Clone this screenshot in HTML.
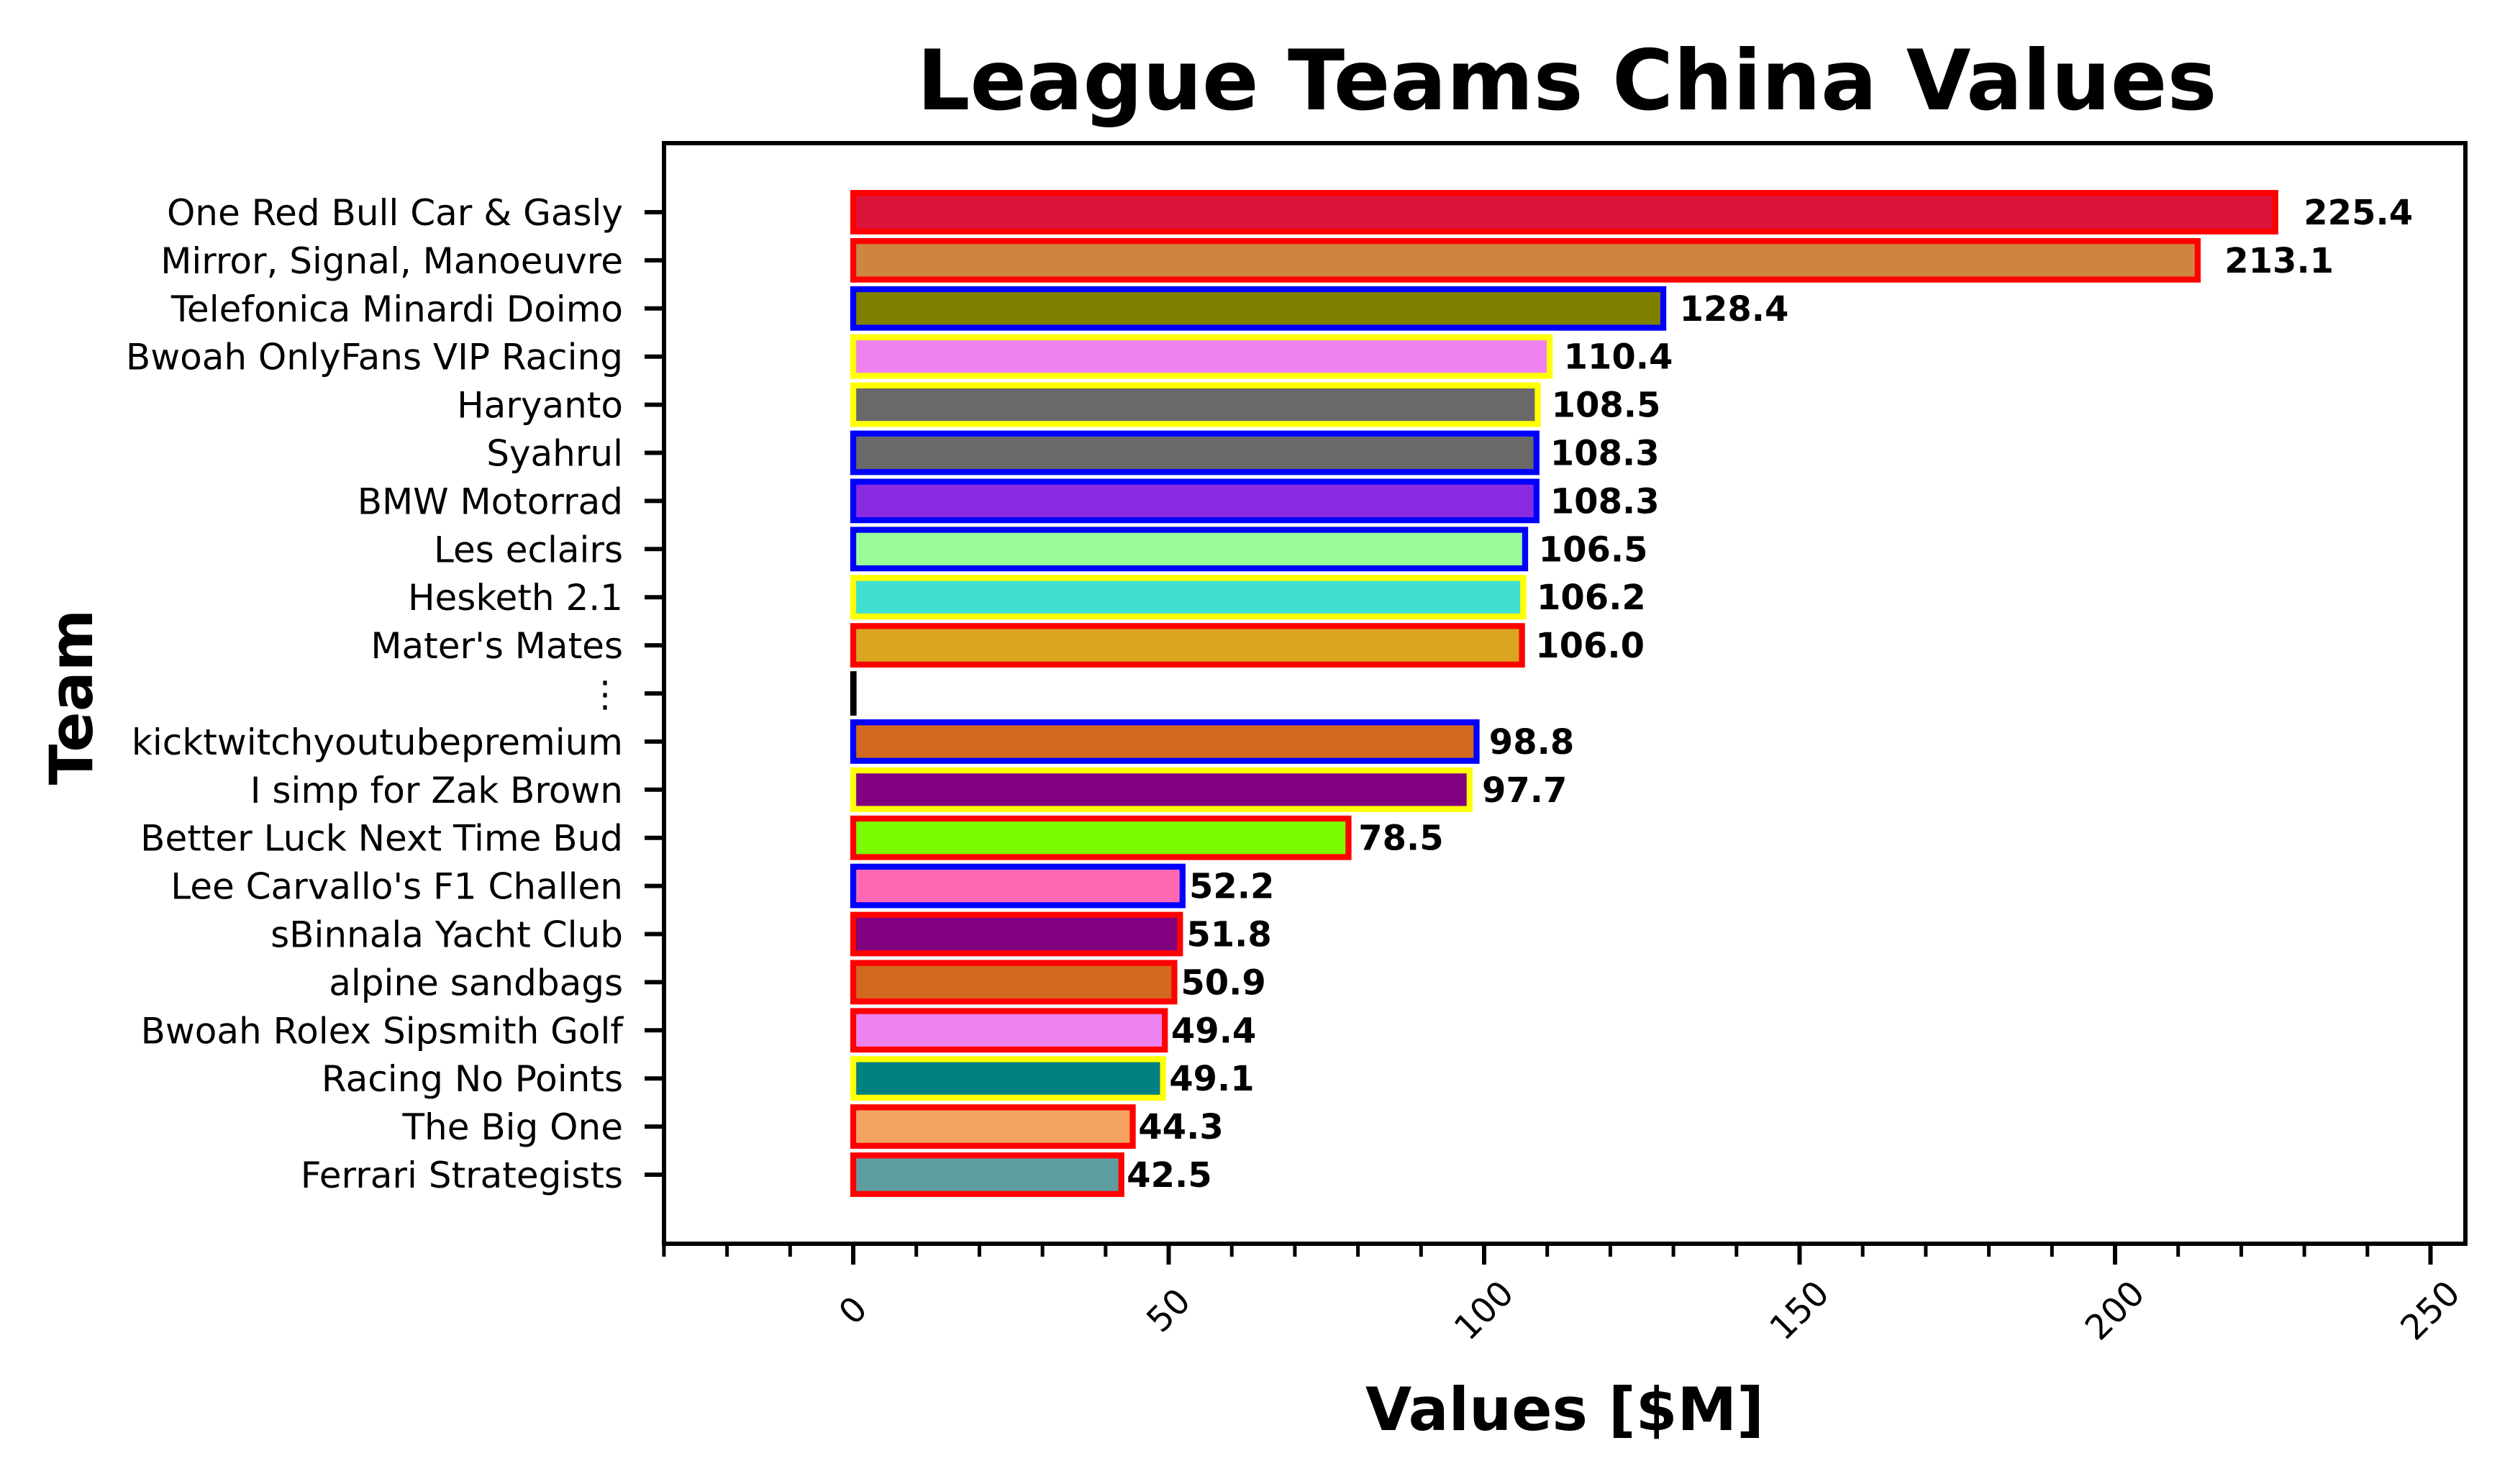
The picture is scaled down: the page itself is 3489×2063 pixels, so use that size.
<!DOCTYPE html>
<html><head><meta charset="utf-8"><title>League Teams China Values</title>
<style>html,body{margin:0;padding:0;background:#fff;}svg{display:block;}text{font-family:"DejaVu Sans","Liberation Sans",sans-serif;}</style>
</head><body>
<svg id="chart" width="3489" height="2063" viewBox="0 0 3489 2063" xmlns="http://www.w3.org/2000/svg">
<rect width="3489" height="2063" fill="#fff"/>
<text x="2178" y="152" text-anchor="middle" font-size="116" font-weight="bold">League Teams China Values</text>
<text x="2175" y="1988" text-anchor="middle" font-size="83" font-weight="bold">Values [$M]</text>
<text x="0" y="0" transform="translate(128,969) rotate(-90)" text-anchor="middle" font-size="83" font-weight="bold">Team</text>
<g id="bars"></g>
<g id="yticks"></g>
<g id="xticks"></g>
<rect x="923" y="199" width="2504" height="1530" fill="none" stroke="#000" stroke-width="6"/>
</svg>
<script>
const teams = ["One Red Bull Car & Gasly","Mirror, Signal, Manoeuvre","Telefonica Minardi Doimo","Bwoah OnlyFans VIP Racing","Haryanto","Syahrul","BMW Motorrad","Les eclairs","Hesketh 2.1","Mater's Mates","⋮","kicktwitchyoutubepremium","I simp for Zak Brown","Better Luck Next Time Bud","Lee Carvallo's F1 Challen","sBinnala Yacht Club","alpine sandbags","Bwoah Rolex Sipsmith Golf","Racing No Points","The Big One","Ferrari Strategists"];
const values = [225.4,213.1,128.4,110.4,108.5,108.3,108.3,106.5,106.2,106.0,0,98.8,97.7,78.5,52.2,51.8,50.9,49.4,49.1,44.3,42.5];
const valueLabels = ["225.4","213.1","128.4","110.4","108.5","108.3","108.3","106.5","106.2","106.0","","98.8","97.7","78.5","52.2","51.8","50.9","49.4","49.1","44.3","42.5"];
const fills = ["#dc143c","#cd853f","#808000","#ee82ee","#696969","#696969","#8a2be2","#98fb98","#40e0d0","#daa520","#000000","#d2691e","#800080","#7cfc00","#ff69b4","#800080","#d2691e","#ee82ee","#008080","#f4a460","#5f9ea0"];
const edges = ["#ff0000","#ff0000","#0000ff","#ffff00","#ffff00","#0000ff","#0000ff","#0000ff","#ffff00","#ff0000","#000000","#0000ff","#ffff00","#ff0000","#0000ff","#ff0000","#ff0000","#ff0000","#ffff00","#ff0000","#ff0000"];
const xTicks = [0,50,100,150,200,250];
const xTickLabels = ["0","50","100","150","200","250"];

const NS = "http://www.w3.org/2000/svg";
const X0 = 1186, PXU = 8.77;
const xs = v => X0 + v * PXU;
const ROW0 = 295, PITCH = 66.9;
const ys = i => ROW0 + i * PITCH;
const BH = 0.8 * PITCH;

function mk(tag, attrs) { const e = document.createElementNS(NS, tag); for (const k in attrs) e.setAttribute(k, attrs[k]); return e; }

const gb = document.getElementById('bars');
const gy = document.getElementById('yticks');
const gx = document.getElementById('xticks');

values.forEach((v, i) => {
  const x1 = xs(0), x2 = xs(v);
  const r = mk('rect', {x: Math.min(x1, x2), y: ys(i) - BH / 2, width: Math.max(Math.abs(x2 - x1), 0.5), height: BH, fill: fills[i], stroke: edges[i], 'stroke-width': 8.3});
  
  
  gb.appendChild(r);
  if (valueLabels[i]) {
    const t = mk('text', {x: xs(v * 1.02), y: ys(i) + 17, 'font-size': 48, 'font-weight': 'bold'});
    t.textContent = valueLabels[i];
    
    
    gb.appendChild(t);
  }
  const tk = mk('line', {x1: 896, x2: 923, y1: ys(i), y2: ys(i), stroke: '#000', 'stroke-width': 6});
  
  
  gy.appendChild(tk);
  const lb = mk('text', {x: 866, y: ys(i) + 18, 'text-anchor': 'end', 'font-size': 50});
  lb.textContent = teams[i];
  
  
  gy.appendChild(lb);
});

for (let m = -30; m <= 255; m += 10) {
  if (m % 50 === 0) continue;
  const tk = mk('line', {x1: xs(m), x2: xs(m), y1: 1729, y2: 1747, stroke: '#000', 'stroke-width': 5});
  
  
  gx.appendChild(tk);
}
xTicks.forEach((v, i) => {
  const tk = mk('line', {x1: xs(v), x2: xs(v), y1: 1729, y2: 1758, stroke: '#000', 'stroke-width': 6});
  
  
  gx.appendChild(tk);
  const t = mk('text', {x: 0, y: 0, 'text-anchor': 'middle', 'dominant-baseline': 'central', 'font-size': 48, transform: 'translate(' + xs(v) + ',1822) rotate(-45)'});
  t.textContent = xTickLabels[i];
  
  
  gx.appendChild(t);
});
</script>
</body></html>
